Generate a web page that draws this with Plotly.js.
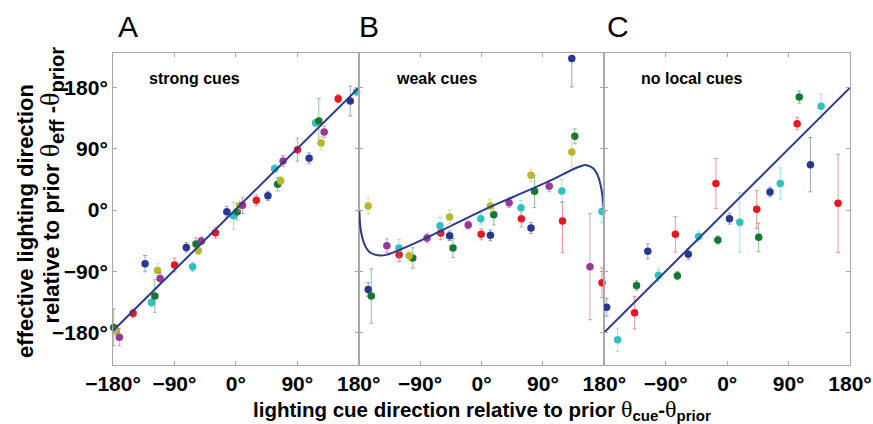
<!DOCTYPE html>
<html>
<head>
<meta charset="utf-8">
<script src="https://cdn.plot.ly/plotly-3.0.1.min.js"></script>
<style>
  html, body { margin: 0; padding: 0; background: #fff; }
  #chart { width: 873px; height: 424px; }
</style>
</head>
<body>
<div id="chart"></div>
<script>
// ---------- DATA ----------
const panelNames = ['strong cues', 'weak cues', 'no local cues'];
const panelLetters = ['A', 'B', 'C'];
const subjects = ['S1', 'S2', 'S3', 'S4', 'S5', 'S6'];
const xTicksA = [-180, -90, 0, 90, 180];
const xTickTextA = ['−180°', '−90°', '0°', '90°', '180°'];
const xTicksBC = [-90, 0, 90, 180];
const xTickTextBC = ['−90°', '0°', '90°', '180°'];
const yTicks = [-180, -90, 0, 90, 180];
const yTickText = ['−180°', '−90°', '0°', '90°', '180°'];

// Panel A: strong cues
const aSubj = ['S4','S5','S6','S2','S1','S3','S4','S5','S6','S2','S1','S3','S4','S5','S6','S2','S1','S3','S4','S5','S6','S2','S1','S4','S5','S3','S6','S2','S1','S3','S4','S5','S6','S2','S1','S3'];
const aX = [-179, -175.6, -170.7, -150.6, -133, -123.6, -118.7, -114.8, -110.9, -89.8, -72.6, -63.3, -58.4, -55, -50.5, -29.9, -13.2, -3.4, 2, 5.4, 9.8, 30, 47, 61.3, 65.7, 56.9, 69.2, 90.3, 107.4, 116.7, 121.6, 125, 129.5, 150, 167.7, 177];
const aY = [-172.7, -178, -187, -152, -79, -136, -126.5, -89, -100.6, -81, -55, -83.4, -50, -59.4, -45.6, -33.4, -2.5, -8.3, -2.5, 6.4, 6.9, 14.2, 21, 37.8, 43.2, 60.8, 72.1, 88.8, 76, 128, 131, 98.6, 114.8, 163.8, 160.4, 174];
const aErrUp = [27, 6, 13, 6, 12, 6, 24, 10, 8, 10, 7, 7, 9, 6, 6, 8, 8, 20, 12, 8, 12, 8, 7, 10, 6, 6, 8, 17, 8, 5, 33, 10, 8, 6, 22, 6];
const aErrDown = [27, 6, 13, 6, 12, 6, 24, 10, 8, 10, 7, 7, 9, 6, 6, 8, 8, 20, 12, 8, 12, 8, 7, 10, 6, 6, 8, 17, 8, 5, 33, 10, 8, 6, 22, 6];
const aFitX = [-180, 180];
const aFitY = [-177.5, 179.5];

// Panel B: weak cues
const bSubj = ['S5','S1','S4','S6','S3','S2','S5','S4','S6','S3','S2','S5','S1','S4','S6','S3','S2','S1','S5','S4','S6','S3','S2','S1','S5','S4','S6','S3','S2','S5','S1','S4','S6','S3','S2'];
const bX = [-166, -166, -161.5, -138.7, -121, -120.7, -106, -100.7, -79.8, -60.8, -59.8, -46.7, -46.7, -41.8, -19.5, -1, -0.5, 13.1, 13.1, 18, 40.4, 57.9, 58.4, 72.5, 72.5, 77.8, 99.2, 117.7, 118.7, 132.3, 132.3, 136.7, 159, 176.6, 176.6];
const bY = [5.9, -117, -126.5, -52.5, -56, -65.7, -67.2, -70.6, -41.2, -23, -33.8, -10.3, -37.8, -56, -22, -12.8, -35.8, -37.3, 5.9, -6.9, 10.8, 3.4, -12.8, -26.5, 51, 27.5, 34.8, 28, -16, 85.4, 223, 108.4, -83.4, -2, -107];
const bErrUp = [12, 10, 40, 10, 13, 10, 8, 15, 7, 12, 10, 10, 7, 14, 6, 8, 8, 8, 10, 15, 7, 11, 12, 8, 9, 24, 8, 17, 28, 22, 4, 11, 78, 17, 22];
const bErrDown = [12, 10, 40, 10, 13, 10, 8, 15, 7, 12, 10, 10, 7, 14, 6, 8, 8, 8, 10, 15, 7, 11, 12, 8, 9, 24, 8, 17, 47, 22, 42, 11, 78, 17, 22];
const bFitX = [-179, -177, -172, -165, -155, -140, -121, -87, -38, 5, 47, 96, 144, 154, 164, 171, 176, 179.5];
const bFitY = [0, -29, -49, -61, -66, -66, -59, -44, -20, 1, 19.5, 41, 64, 66, 61, 49, 29, -1];

// Panel C: no local cues
const cSubj = ['S1','S3','S2','S4','S1','S3','S2','S4','S1','S3','S2','S4','S1','S3','S2','S4','S1','S3','S2','S4','S1','S3','S2'];
const cX = [-176.6, -160.5, -135.7, -132.8, -116.3, -100.7, -75.9, -73, -57, -41.8, -16.5, -13.6, 3.4, 18.5, 43.3, 46.2, 62.8, 77.8, 102.6, 105.6, 122, 137.7, 162.5];
const cY = [-143, -191, -151, -111, -60.8, -96, -35.8, -96.6, -65, -39, 39, -44, -12.8, -18, 1, -40.2, 26.5, 39, 127, 166.3, 66.7, 152.5, 9.8];
const cErrUp = [13, 17, 24, 7, 11, 9, 26, 6, 8, 8, 37, 6, 8, 44, 28, 21, 7, 23, 9, 9, 40, 18, 72];
const cErrDown = [13, 17, 24, 7, 11, 9, 26, 6, 8, 8, 37, 6, 8, 44, 28, 21, 7, 23, 9, 9, 40, 18, 72];
const cFitX = [-180, 180];
const cFitY = [-180, 180];

// ---------- STYLE ----------
const subjColor = {
  S1: [40, 56, 145],
  S2: [232, 22, 32],
  S3: [48, 192, 190],
  S4: [22, 120, 48],
  S5: [184, 184, 44],
  S6: [154, 56, 154]
};
const rgb = (c) => `rgb(${c[0]},${c[1]},${c[2]})`;
const rgba = (c, a) => `rgba(${c[0]},${c[1]},${c[2]},${a})`;
const fitColor = '#2b3990';
const frameColor = '#a8a8a8';

const panels = [
  {subj: aSubj, x: aX, y: aY, up: aErrUp, dn: aErrDown, fx: aFitX, fy: aFitY, shape: 'linear'},
  {subj: bSubj, x: bX, y: bY, up: bErrUp, dn: bErrDown, fx: bFitX, fy: bFitY, shape: 'spline'},
  {subj: cSubj, x: cX, y: cY, up: cErrUp, dn: cErrDown, fx: cFitX, fy: cFitY, shape: 'linear'}
];

const traces = [];
panels.forEach((p, pi) => {
  const xa = pi === 0 ? 'x' : 'x' + (pi + 1);
  const ya = pi === 0 ? 'y' : 'y' + (pi + 1);
  subjects.forEach(s => {
    const idx = p.subj.map((v, i) => v === s ? i : -1).filter(i => i >= 0);
    if (!idx.length) return;
    traces.push({
      type: 'scatter', mode: 'markers', xaxis: xa, yaxis: ya,
      x: idx.map(i => p.x[i]), y: idx.map(i => p.y[i]),
      error_y: {type: 'data', symmetric: false,
        array: idx.map(i => p.up[i]), arrayminus: idx.map(i => p.dn[i]),
        color: rgba(subjColor[s], 0.45), thickness: 1, width: 2},
      marker: {size: 7.5, color: rgb(subjColor[s])},
      cliponaxis: false, showlegend: false, hoverinfo: 'skip'
    });
  });
  traces.push({
    type: 'scatter', mode: 'lines', xaxis: xa, yaxis: ya,
    x: p.fx, y: p.fy,
    line: {color: fitColor, width: 2, shape: p.shape, smoothing: 1},
    cliponaxis: false, showlegend: false, hoverinfo: 'skip'
  });
});

const tickFont = {family: 'Liberation Sans, Arial, sans-serif', size: 21, weight: 'bold', color: '#000'};
function xAxis(dom, ticks, text, anchor) {
  return {
    domain: dom, anchor: anchor, range: [-180, 180],
    tickmode: 'array', tickvals: ticks, ticktext: text,
    ticks: 'inside', ticklen: 4, tickcolor: frameColor, tickwidth: 1,
    showline: true, linecolor: frameColor, linewidth: 1, mirror: 'ticks',
    showgrid: false, zeroline: false, tickfont: tickFont, fixedrange: true
  };
}
function yAxis(anchor, showLabels) {
  return {
    anchor: anchor, range: [-228, 231],
    tickmode: 'array', tickvals: yTicks, ticktext: yTickText,
    ticks: 'inside', ticklen: 4, tickcolor: frameColor, tickwidth: 1,
    showline: true, linecolor: frameColor, linewidth: 1, mirror: 'ticks',
    showgrid: false, zeroline: false, showticklabels: showLabels,
    tickfont: tickFont, fixedrange: true
  };
}

const annFont = {family: 'Liberation Sans, Arial, sans-serif', color: '#000'};
const annotations = [];
const letterX = [0.0204, 0.3474, 0.6852];
const nameX = [0.111, 0.4396, 0.7856];
panelLetters.forEach((L, i) => {
  annotations.push({xref: 'paper', yref: 'paper', x: letterX[i], y: 1.0865, text: L,
    showarrow: false, xanchor: 'center', yanchor: 'middle',
    font: Object.assign({}, annFont, {size: 30})});
  annotations.push({xref: 'paper', yref: 'paper', x: nameX[i], y: 0.9167, text: panelNames[i],
    showarrow: false, xanchor: 'center', yanchor: 'middle',
    font: Object.assign({}, annFont, {size: 16, weight: 'bold'})});
});
const th = (sz) => '<span style="font-family:Liberation Serif;font-weight:normal;font-size:' + sz + 'px">θ</span>';
const sb = (t, sz) => '<sub><span style="font-size:' + sz + 'px">' + t + '</span></sub>';
annotations.push({xref: 'paper', yref: 'paper', x: -0.118, y: 0.462, textangle: -90,
  text: 'effective lighting direction', showarrow: false, xanchor: 'center', yanchor: 'middle',
  font: Object.assign({}, annFont, {size: 22, weight: 'bold'})});
annotations.push({xref: 'paper', yref: 'paper', x: -0.0841, y: 0.575, textangle: -90,
  text: 'relative to prior ' + th(28) + sb('eff', 20) + ' -' + th(28) + sb('prior', 20),
  showarrow: false, xanchor: 'center', yanchor: 'middle',
  font: Object.assign({}, annFont, {size: 22, weight: 'bold'})});
annotations.push({xref: 'paper', yref: 'paper', x: 0.5007, y: -0.144,
  text: 'lighting cue direction relative to prior ' + th(24) + sb('cue', 15) + '-' + th(24) + sb('prior', 15),
  showarrow: false, xanchor: 'center', yanchor: 'middle',
  font: Object.assign({}, annFont, {size: 20.5, weight: 'bold'})});

const layout = {
  width: 873, height: 424,
  margin: {l: 113, r: 23, t: 53, b: 59},
  paper_bgcolor: '#fff', plot_bgcolor: '#fff',
  showlegend: false,
  xaxis: xAxis([0, 1/3], xTicksA, xTickTextA, 'y'),
  xaxis2: xAxis([1/3, 2/3], xTicksBC, xTickTextBC, 'y2'),
  xaxis3: xAxis([2/3, 1], xTicksBC, xTickTextBC, 'y3'),
  yaxis: yAxis('x', true),
  yaxis2: yAxis('x2', false),
  yaxis3: yAxis('x3', false),
  annotations: annotations
};

Plotly.newPlot('chart', traces, layout, {staticPlot: true, displayModeBar: false});
</script>
</body>
</html>
